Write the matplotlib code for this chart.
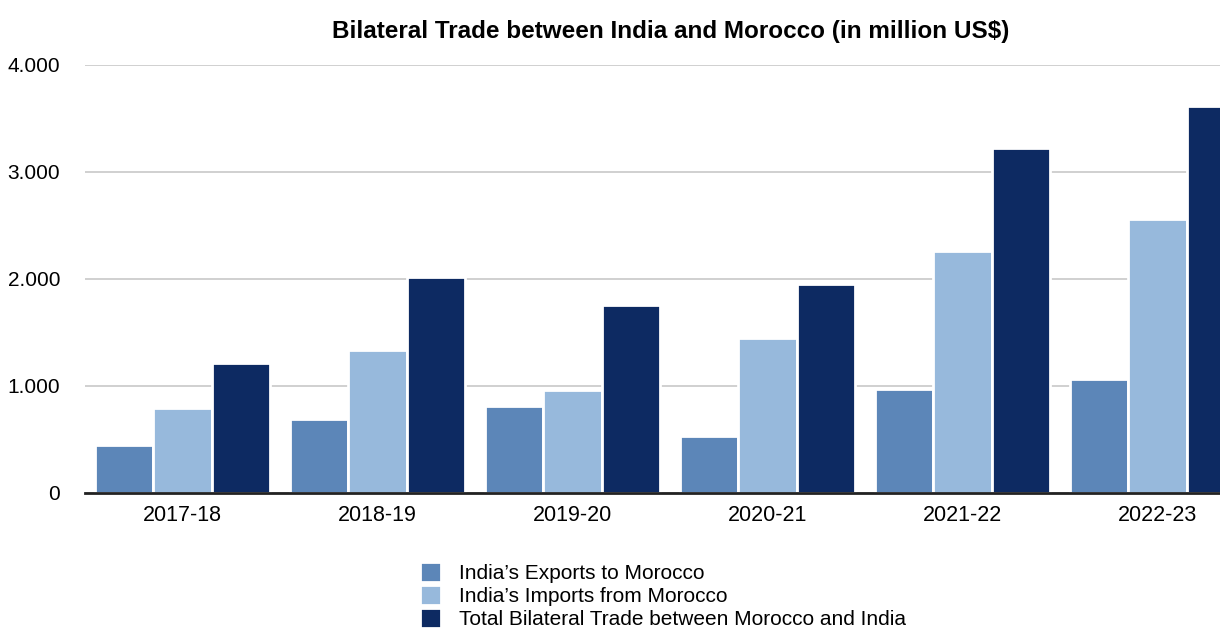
import numpy as np
import matplotlib.pyplot as plt
from matplotlib.ticker import FuncFormatter

years = ['2017-18', '2018-19', '2019-20', '2020-21', '2021-22', '2022-23']
exports = [445, 690, 810, 528, 970, 1065]
imports = [790, 1335, 960, 1445, 2262, 2565]
total = [1215, 2020, 1758, 1955, 3225, 3615]

labels = ["India\u2019s Exports to Morocco",
          "India\u2019s Imports from Morocco",
          "Total Bilateral Trade between Morocco and India"]
colors = ['#5c86b8', '#97b9dc', '#0d2a62']

plt.rcParams['font.family'] = ['Liberation Sans', 'DejaVu Sans']

fig = plt.figure(figsize=(12.2, 6.3), dpi=100)
ax = fig.add_axes([0.0697, 0.2175, 0.9303, 0.6794])

x = np.arange(len(years))
w = 0.3
for i, (vals, c, lab) in enumerate(zip([exports, imports, total], colors, labels)):
    ax.bar(x + (i - 1) * w, vals, width=w, color=c, edgecolor='white',
           linewidth=2, label=lab, zorder=3)

ax.set_xlim(-0.5, 5.32)
ax.set_ylim(0, 4000)
ax.set_yticks([0, 1000, 2000, 3000, 4000])
ax.yaxis.set_major_formatter(FuncFormatter(lambda v, p: f'{int(v):,}'.replace(',', '.')))
ax.set_xticks(x)
ax.set_xticklabels(years)
ax.tick_params(axis='x', length=0, labelsize=15.5, pad=9)
ax.tick_params(axis='y', length=0, labelsize=15, pad=18)
ax.grid(axis='y', color='#c8c8c8', linewidth=1.2, zorder=0)
for s in ['top', 'right', 'left']:
    ax.spines[s].set_visible(False)
ax.spines['bottom'].set_color('#222222')
ax.spines['bottom'].set_linewidth(2)
ax.spines['bottom'].set_zorder(4)

fig.text(0.55, 0.950, 'Bilateral Trade between India and Morocco (in million US$)',
         ha='center', va='center', fontsize=17.5, fontweight='bold')

fig.legend(loc='upper left', bbox_to_anchor=(0.344, 0.108), frameon=False,
           fontsize=15, handlelength=1.0, handleheight=1.1, labelspacing=0.1,
           handletextpad=0.9, borderpad=0, borderaxespad=0)

fig.savefig('out.png', dpi=100)
